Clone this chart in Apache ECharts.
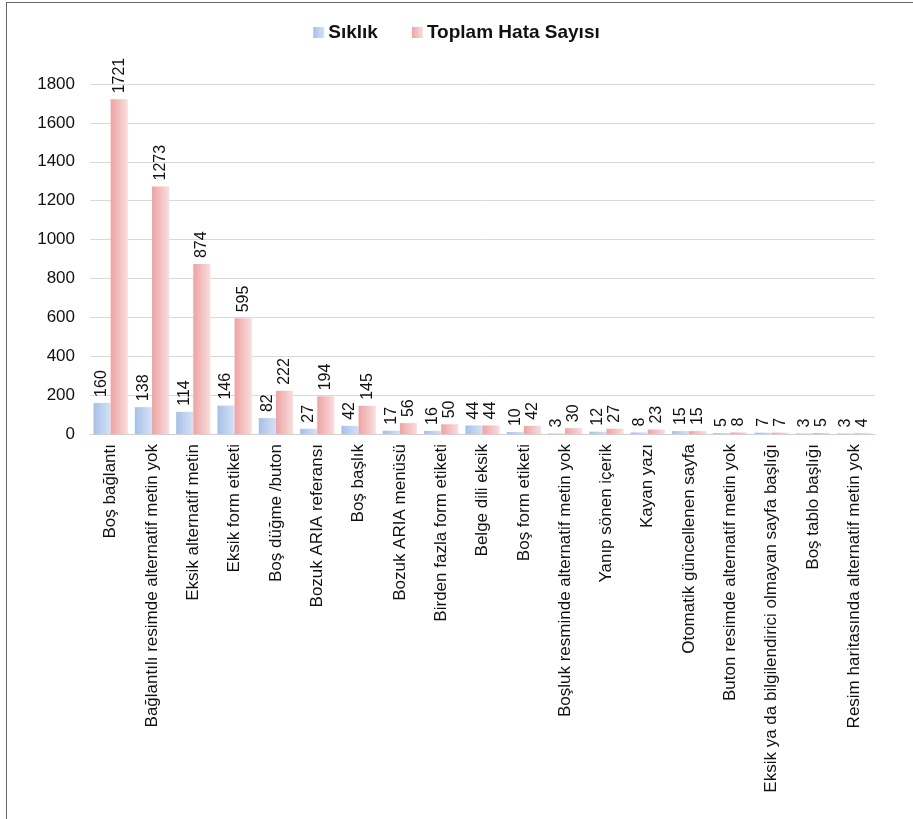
<!DOCTYPE html>
<html><head><meta charset="utf-8">
<script src="https://cdn.jsdelivr.net/npm/echarts@6/dist/echarts.min.js"></script>
<style>
html,body{margin:0;padding:0;background:#fff;}
#frame{position:absolute;left:6px;top:2px;width:913px;height:830px;border-left:1px solid #666;border-top:1px solid #666;}
#c{position:absolute;left:0;top:0;width:913px;height:819px;}
</style></head>
<body>
<div id="frame"></div>
<div id="c"></div>
<script>
const cats = ["Boş bağlantı","Bağlantılı resimde alternatif metin yok","Eksik alternatif metin","Eksik form etiketi","Boş düğme /buton","Bozuk ARIA referansı","Boş başlık","Bozuk ARIA menüsü","Birden fazla form etiketi","Belge dili eksik","Boş form etiketi","Boşluk resminde alternatif metin yok","Yanıp sönen içerik","Kayan yazı","Otomatik güncellenen sayfa","Buton resimde alternatif metin yok","Eksik ya da bilgilendirici olmayan sayfa başlığı","Boş tablo başlığı","Resim haritasında alternatif metin yok"];
const siklik = [160,138,114,146,82,27,42,17,16,44,10,3,12,8,15,5,7,3,3];
const toplam = [1721,1273,874,595,222,194,145,56,50,44,42,30,27,23,15,8,7,5,4];
const yTicks = [0,200,400,600,800,1000,1200,1400,1600,1800];

const chart = echarts.init(document.getElementById('c'), null, {renderer:'canvas'});
const font = 'Liberation Sans, Arial, sans-serif';
function grad(c1,c2){return new echarts.graphic.LinearGradient(0,0,1,0,[{offset:0,color:c1},{offset:1,color:c2}]);}
const lbl = {show:true, position:'top', rotate:90, align:'left', verticalAlign:'middle', distance:6, fontSize:16, color:'#111', fontFamily:font};
chart.setOption({
  animation:false,
  legend:{top:18, left:'center', itemWidth:11, itemHeight:11, itemGap:34,
    icon:'rect',
    textStyle:{fontSize:19, fontWeight:'bold', color:'#111', fontFamily:font, padding:[0,0,0,-1]},
    data:['Sıklık','Toplam Hata Sayısı']},
  grid:{left:90, right:38, top:84, bottom:385, containLabel:false},
  xAxis:{type:'category', data:cats,
    axisLine:{lineStyle:{color:'#cfcfcf'}}, axisTick:{show:false},
    axisLabel:{rotate:90, interval:0, fontSize:17, color:'#111', fontFamily:font, margin:10}},
  yAxis:{type:'value', min:yTicks[0], max:yTicks[yTicks.length-1], interval:200,
    axisLine:{show:false}, axisTick:{show:false},
    splitLine:{lineStyle:{color:'#d9d9d9', width:1}},
    axisLabel:{fontSize:17, color:'#111', fontFamily:font, margin:15, formatter:v=>String(v)}},
  series:[
    {name:'Sıklık', type:'bar', data:siklik, barGap:'0%', barCategoryGap:'17%',
      itemStyle:{color:grad('#a7c0e8','#d5e2f5')}, label:lbl},
    {name:'Toplam Hata Sayısı', type:'bar', data:toplam,
      itemStyle:{color:grad('#eea3a3','#f9dede')}, label:lbl}
  ]
});
</script>
</body></html>
